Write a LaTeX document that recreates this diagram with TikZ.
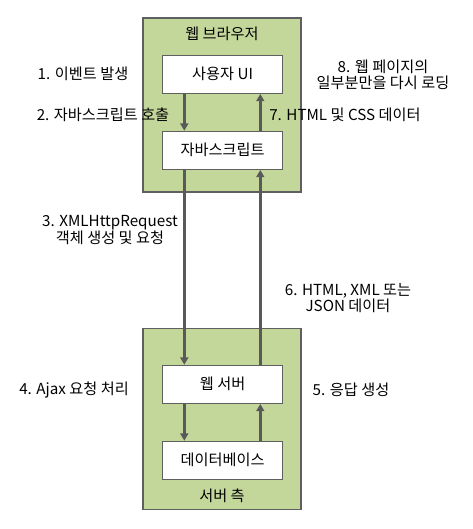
\documentclass[tikz,border=0pt]{standalone}
\usepackage{fontspec}
\setmainfont{Noto Sans CJK KR}
\usetikzlibrary{arrows.meta}
\definecolor{grn}{HTML}{C4D79B}
\definecolor{bord}{HTML}{5F5F5F}
\definecolor{arrc}{HTML}{595959}
\begin{document}
\begin{tikzpicture}[x=0.75pt,y=-0.75pt,
  font=\fontsize{11.4pt}{12.4pt}\selectfont,
  group/.style={draw=bord,fill=grn,line width=0.9pt,minimum width=158*0.75pt,inner sep=0pt},
  inbox/.style={draw=bord,fill=white,line width=0.9pt,minimum width=120*0.75pt,minimum height=38*0.75pt,inner sep=0pt},
  arr/.style={draw=arrc,line width=2pt,-{Triangle[width=6pt,length=5.5pt]}},
  lbl/.style={align=center,inner sep=0pt}]
\useasboundingbox (0,0) rectangle (472,529);
\node[group,minimum height=174*0.75pt] (browser) at (222,105) {};
\node[group,minimum height=181*0.75pt] (server) at (222,418.8) {};
\node[inbox] (ui) at (222.6,74.3) {사용자 UI};
\node[inbox] (js) at (222.6,150.3) {자바스크립트};
\node[inbox] (ws) at (222.6,384.3) {웹 서버};
\node[inbox] (db) at (222.6,460.3) {데이터베이스};
\node[lbl] (tb) at (222,33.7) {웹 브라우저};
\node[lbl] (ts) at (222,495.5) {서버 측};
\coordinate (xL) at (184.3,0);
\coordinate (xR) at (260.3,0);
\draw[arr] (ui.south -| xL) -- (js.north -| xL);
\draw[arr] (js.north -| xR) -- (ui.south -| xR);
\draw[arr] (js.south -| xL) -- (ws.north -| xL);
\draw[arr] (ws.north -| xR) -- (js.south -| xR);
\draw[arr] (ws.south -| xL) -- (db.north -| xL);
\draw[arr] (db.north -| xR) -- (ws.south -| xR);
\node[lbl] (l1) at (83,74) {1. 이벤트 발생};
\node[lbl] (l2) at (103,115) {2. 자바스크립트 호출};
\node[lbl] (l8) at (383,75) {8. 웹 페이지의\\일부분만을 다시 로딩};
\node[lbl,anchor=west] (l7) at (269,115) {7. HTML 및 CSS 데이터};
\node[lbl] (l3) at (110,230) {3. XMLHttpRequest\\객체 생성 및 요청};
\node[lbl] (l6) at (348,298) {6. HTML, XML 또는\\JSON 데이터};
\node[lbl] (l4) at (74,390) {4. Ajax 요청 처리};
\node[lbl] (l5) at (351,390) {5. 응답 생성};
\end{tikzpicture}
\end{document}
